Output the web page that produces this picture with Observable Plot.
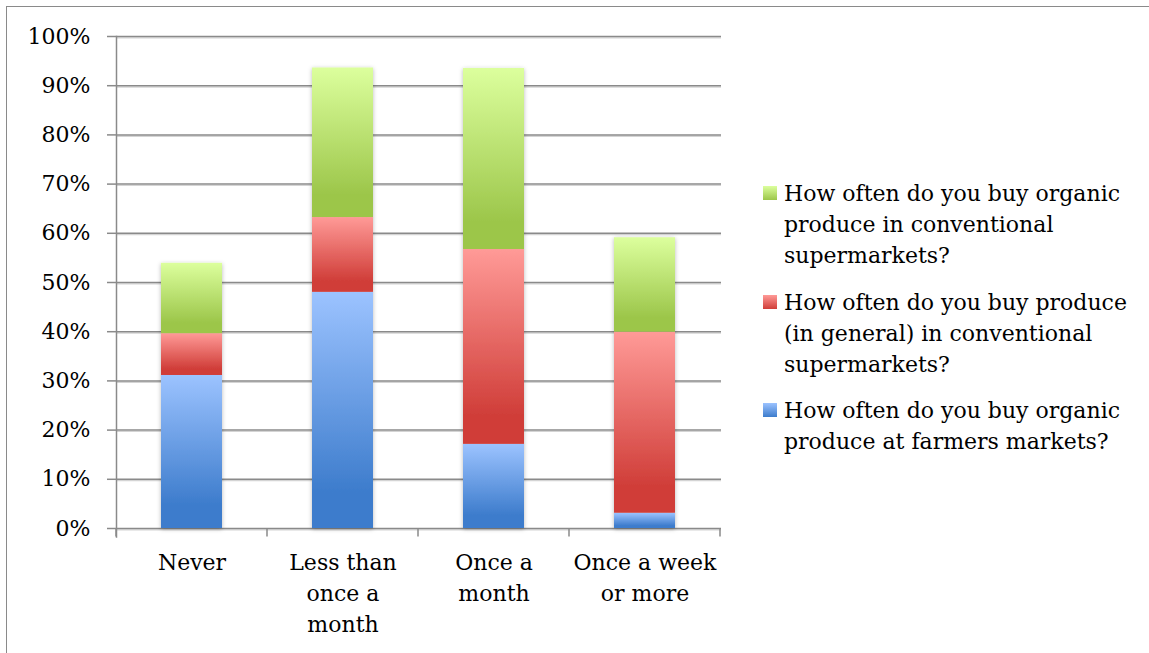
<!DOCTYPE html>
<html>
<head>
<meta charset="utf-8">
<script src="https://cdn.jsdelivr.net/npm/d3@7"></script>
<script src="https://cdn.jsdelivr.net/npm/@observablehq/plot@0.6"></script>
<style>
  html, body { margin: 0; padding: 0; background: #fff; }
  #wrap { position: relative; width: 1149px; height: 653px; overflow: hidden; font-family: "DejaVu Serif", serif; }
  #frame { position: absolute; left: 6px; top: 6px; width: 1160px; height: 700px; border: 1.5px solid #8a8a8a; box-sizing: border-box; }
  #chart { position: absolute; left: 0; top: 0; }
  #legend { position: absolute; left: 763px; top: 178px; font-size: 22px; line-height: 31px; color: #000; }
  .item { position: relative; padding-left: 21px; margin-bottom: 15.5px; white-space: nowrap; }
  .sw { position: absolute; left: 0; top: 8px; width: 14px; height: 14px; }
</style>
</head>
<body>
<div id="wrap">
  <div id="frame"></div>
  <div id="chart"></div>
  <div id="legend"></div>
</div>
<script>
// ---- data ----
const categories = ["Never", "Less than\nonce a\nmonth", "Once a\nmonth", "Once a week\nor more"];
const series = [
  "How often do you buy organic produce at farmers markets?",
  "How often do you buy produce (in general) in conventional supermarkets?",
  "How often do you buy organic produce in conventional supermarkets?"
];
const farmersOrganic   = [0.311, 0.480, 0.171, 0.031];
const generalProduce   = [0.085, 0.152, 0.396, 0.368];
const superOrganic     = [0.143, 0.304, 0.368, 0.192];
const yTicks = [0, 0.1, 0.2, 0.3, 0.4, 0.5, 0.6, 0.7, 0.8, 0.9, 1.0];
const legendLines = [
  ["How often do you buy organic", "produce in conventional", "supermarkets?"],
  ["How often do you buy produce", "(in general) in conventional", "supermarkets?"],
  ["How often do you buy organic", "produce at farmers markets?"]
];

const gradIds = ["gBlue", "gRed", "gGreen"];
const gradColors = [["#9cc3ff", "#3d7ccc"], ["#ff9a97", "#d03e39"], ["#dcff9d", "#9cc64a"]];

const seriesValues = [farmersOrganic, generalProduce, superOrganic];
const rows = [];
categories.forEach((c, i) => {
  series.forEach((s, j) => rows.push({cat: c, series: s, value: seriesValues[j][i]}));
});

const font = "DejaVu Serif, serif";

// boundary ticks on the band scale, drawn from the library's scales
function boundaryTicks(index, scales, values, dims) {
  const x = scales.x, y = scales.y;
  const step = x(categories[1]) - x(categories[0]);
  const bw = x.bandwidth ? x.bandwidth() : 0;
  const g = d3.create("svg:g").attr("stroke", "#8a8a8a").attr("stroke-width", 1.5);
  const edges = categories.map(c => x(c) + bw / 2 - step / 2);
  edges.push(x(categories[categories.length - 1]) + bw / 2 + step / 2);
  const y0 = y(0);
  for (const e of edges) {
    g.append("line").attr("x1", e).attr("x2", e).attr("y1", y0).attr("y2", y0 + 8.5);
  }
  return g.node();
}

const plot = Plot.plot({
  width: 1149,
  height: 653,
  marginLeft: 116,
  marginRight: 428,
  marginTop: 36,
  marginBottom: 125,
  style: {fontFamily: font, fontSize: "22px", color: "#000", background: "transparent"},
  x: {domain: categories, paddingInner: 0.595, paddingOuter: 0.2975, align: 0.5, axis: null},
  y: {domain: [0, 1], axis: null},
  color: {domain: series, range: gradIds.map(id => `url(#${id})`)},
  marks: [
    Plot.ruleY(yTicks, {stroke: "#d4d4d4", strokeWidth: 1.2, dy: 1.4}),
    Plot.ruleY(yTicks, {stroke: "#8a8a8a", strokeWidth: 1.5}),
    Plot.axisY({ticks: yTicks, tickFormat: d3.format(".0%"), tickSize: 9, tickPadding: 17, stroke: "#8a8a8a", strokeWidth: 1.5, fontSize: 22, fill: "#000", label: null}),
    Plot.frame({anchor: "left", stroke: "#8a8a8a", strokeWidth: 1.5, insetBottom: -8.5}),
    boundaryTicks,
    Plot.barY(rows, Plot.stackY({x: "cat", y: "value", fill: "series", order: null})),
    Plot.text(categories, {x: d => d, y: () => 0, text: d => d, lineAnchor: "top", lineHeight: 1.41, dy: 19, fontSize: 22, fill: "#000"})
  ]
});

// gradients + subtle shadow
const svg = d3.select(plot);
const defs = svg.insert("defs", ":first-child");
gradIds.forEach((id, i) => {
  const lg = defs.append("linearGradient").attr("id", id).attr("x1", 0).attr("y1", 0).attr("x2", 0).attr("y2", 1);
  lg.append("stop").attr("offset", "0%").attr("stop-color", gradColors[i][0]);
  lg.append("stop").attr("offset", "85%").attr("stop-color", gradColors[i][1]);
  lg.append("stop").attr("offset", "100%").attr("stop-color", gradColors[i][1]);
});
const f = defs.append("filter").attr("id", "shadow").attr("x", "-20%").attr("y", "-20%").attr("width", "140%").attr("height", "140%");
f.append("feDropShadow").attr("dx", 0).attr("dy", 1).attr("stdDeviation", 2.2).attr("flood-color", "#000").attr("flood-opacity", 0.28);
svg.selectAll("g[aria-label=bar]").attr("filter", "url(#shadow)");

document.getElementById("chart").appendChild(plot);

// legend (top-to-bottom: green, red, blue)
const legend = d3.select("#legend");
[2, 1, 0].forEach((si, k) => {
  const it = legend.append("div").attr("class", "item");
  it.append("div").attr("class", "sw").style("background", `linear-gradient(${gradColors[si][0]}, ${gradColors[si][1]})`);
  it.append("div").html(legendLines[k].join("<br>"));
});
</script>
</body>
</html>
